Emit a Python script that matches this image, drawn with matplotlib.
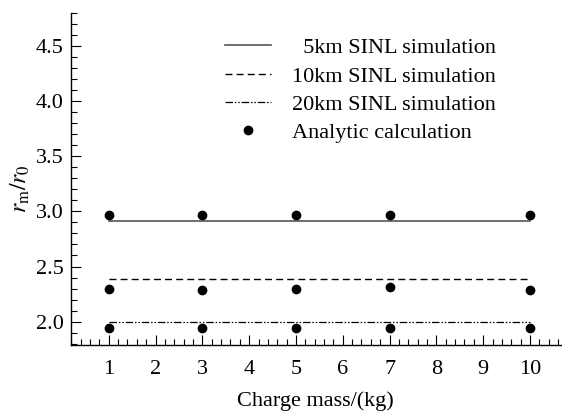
import numpy as np
import matplotlib
matplotlib.use("Agg")
import matplotlib.pyplot as plt
from matplotlib.ticker import MultipleLocator

plt.rcParams['font.family'] = ['Liberation Serif', 'DejaVu Serif']
plt.rcParams['mathtext.fontset'] = 'stix'

# data
charge_mass = [1, 3, 5, 7, 10]
sim_5km = [2.915, 2.915]
sim_10km = [2.387, 2.387]
sim_20km = [1.995, 1.995]
sim_x = [1, 10]
analytic_5km = [2.966, 2.966, 2.966, 2.966, 2.968]
analytic_10km = [2.30, 2.29, 2.30, 2.31, 2.29]
analytic_20km = [1.94, 1.945, 1.945, 1.94, 1.94]

fig = plt.figure(figsize=(5.62, 4.13), dpi=100)
ax = fig.add_axes([0.126, 0.165, 0.872, 0.804])

ax.plot(sim_x, sim_5km, '-', color='#555555', lw=1.2, label='  5km SINL simulation')
ax.plot(sim_x, sim_10km, '--', color='black', lw=1.0, dashes=(5, 3), label='10km SINL simulation')
ax.plot(sim_x, sim_20km, color='black', lw=0.9,
        linestyle=(0, (6, 1.5, 1.2, 1.5, 1.2, 1.5)), label='20km SINL simulation')
ax.plot(charge_mass, analytic_5km, 'o', color='black', ms=6, label='Analytic calculation')
ax.plot(charge_mass, analytic_10km, 'o', color='black', ms=6)
ax.plot(charge_mass, analytic_20km, 'o', color='black', ms=6)

ax.set_xlim(0.19, 10.66)
ax.set_ylim(1.79, 4.80)
ax.xaxis.set_major_locator(MultipleLocator(1))
ax.xaxis.set_minor_locator(MultipleLocator(0.2))
ax.yaxis.set_major_locator(MultipleLocator(0.5))
ax.yaxis.set_minor_locator(MultipleLocator(0.1))
ax.set_xticks(range(1, 11))
ax.set_yticks([2.0, 2.5, 3.0, 3.5, 4.0, 4.5])
ax.set_yticklabels(['2.0', '2.5', '3.0', '3.5', '4.0', '4.5'])
ax.tick_params(which='both', direction='in', labelsize=16, color='black')
ax.tick_params(which='major', length=7, width=0.8)
ax.tick_params(which='minor', length=4, width=0.8)
ax.tick_params(axis='x', which='major', pad=11)
ax.tick_params(axis='y', which='major', pad=5)

for side in ['top', 'right']:
    ax.spines[side].set_visible(False)
for side in ['left', 'bottom']:
    ax.spines[side].set_linewidth(1.0)

ax.set_xlabel('Charge mass/(kg)', fontsize=16, labelpad=9)
ax.set_ylabel(r'$r_{\rm m}/r_0$', fontsize=17)
ax.yaxis.set_label_coords(-0.08, 0.47)

ax.legend(loc='upper left', bbox_to_anchor=(0.314, 0.925), frameon=False, fontsize=16,
          borderpad=0, borderaxespad=0,
          handlelength=2.1, handletextpad=0.95, labelspacing=0.35, numpoints=1)

fig.savefig('out.png', dpi=100)
